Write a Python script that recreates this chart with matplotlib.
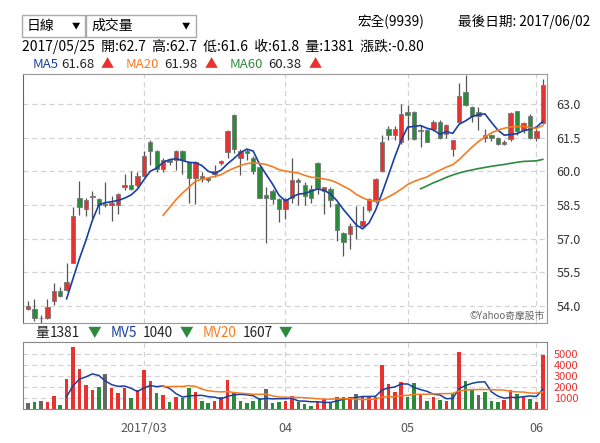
import numpy as np
import pandas as pd
import matplotlib
matplotlib.use('Agg')
import matplotlib.pyplot as plt
from matplotlib.patches import Rectangle

plt.rcParams['font.family'] = ['Noto Sans CJK TC', 'DejaVu Sans']

# daily candles, 2017/02 - 2017/06/02
opens = [53.85, 53.85, 53.45, 53.45, 54.2, 54.65, 54.7, 55.9, 58.8, 58.3,
         58.85, 58.75, 58.5, 58.5, 58.5, 59.3, 59.4, 59.4, 59.8, 61.3,
         60.9, 60.1, 60.5, 60.5, 60.9, 60.4, 59.7, 59.65, 59.7, 59.9,
         60.35, 60.85, 62.5, 60.6, 60.9, 60.6, 60.2, 58.95, 59.1, 58.75,
         58.3, 58.8, 59.6, 59.4, 59.2, 60.35, 59.1, 59.2, 58.55, 57.25,
         57.2, 57.55, 57.55, 58.25, 58.7, 60.0, 61.9, 61.6, 61.3, 62.65,
         62.65, 61.8, 61.85, 61.9, 62.2, 61.65, 61.0, 62.2, 63.55, 62.85,
         62.65, 61.5, 61.6, 61.5, 61.2, 61.45, 62.7, 61.85, 62.45, 61.5,
         62.15]
highs = [54.2, 54.3, 53.6, 54.3, 55.0, 54.85, 55.9, 58.4, 59.55, 58.8,
         59.1, 58.8, 59.5, 58.9, 59.05, 59.9, 60.0, 59.95, 60.9, 61.4,
         60.95, 60.6, 60.55, 60.95, 60.95, 60.4, 60.45, 59.95, 59.75, 60.3,
         60.5, 61.85, 62.55, 61.0, 61.0, 60.7, 60.3, 59.3, 59.2, 58.8,
         58.8, 60.6, 59.7, 59.5, 59.4, 60.4, 59.3, 59.3, 58.6, 57.3,
         57.7, 58.45, 58.45, 58.8, 59.7, 61.6, 62.0, 62.0, 63.0, 62.95,
         62.7, 62.05, 61.9, 62.3, 62.3, 62.1, 61.4, 63.95, 64.3, 62.9,
         62.85, 61.9, 61.65, 61.55, 61.4, 62.65, 62.7, 62.2, 62.55, 61.9,
         64.1]
lows = [53.8, 53.3, 53.2, 53.4, 54.05, 54.4, 54.65, 55.9, 58.05, 58.0,
        57.9, 58.1, 58.4, 57.8, 58.1, 59.15, 59.15, 59.3, 59.75, 60.3,
        59.95, 59.95, 60.3, 60.05, 59.9, 58.6, 58.55, 59.5, 59.5, 59.75,
        60.3, 60.6, 60.8, 59.85, 60.5, 59.9, 58.8, 56.8, 58.55, 57.75,
        57.85, 58.6, 58.5, 58.5, 58.6, 59.0, 58.1, 58.4, 56.9, 56.2,
        56.55, 57.0, 57.5, 58.2, 58.6, 59.95, 61.4, 61.4, 61.2, 61.4,
        61.4, 61.1, 61.3, 61.8, 61.45, 61.5, 60.7, 62.15, 62.9, 62.2,
        61.85, 61.3, 61.35, 61.15, 61.15, 61.35, 61.6, 61.7, 61.45, 61.35,
        62.1]
closes = [54.0, 53.45, 53.45, 53.95, 54.65, 54.45, 55.05, 58.0, 58.4, 58.7,
          58.9, 58.5, 58.5, 58.6, 59.0, 59.4, 59.2, 59.8, 60.7, 60.9,
          60.1, 60.5, 60.4, 60.9, 60.5, 59.7, 60.4, 59.8, 59.6, 60.0,
          60.45, 61.8, 61.0, 60.9, 60.8, 60.0, 58.8, 58.8, 58.75, 58.3,
          58.75, 59.6, 59.5, 58.9, 58.8, 59.25, 59.3, 58.7, 57.4, 56.85,
          57.55, 57.55, 57.8, 58.75, 59.65, 61.3, 61.6, 61.9, 62.55, 62.5,
          61.45, 61.8, 61.3, 62.2, 61.5, 62.05, 61.4, 63.35, 62.95, 62.45,
          62.45, 61.6, 61.5, 61.2, 61.3, 62.6, 61.8, 62.15, 61.5, 61.8,
          63.85]
volumes = [520, 610, 700, 610, 1200, 400, 2700, 5670, 3640, 2190,
           1740, 2010, 3200, 1920, 1410, 1920, 970, 1710, 3530, 2540,
           1410, 1290, 610, 1120, 1000, 1890, 1500, 700, 520, 760,
           1120, 2630, 1410, 760, 520, 700, 1000, 1860, 520, 610,
           700, 1200, 610, 460, 310, 700, 910, 610, 1120, 1050,
           1120, 1360, 1050, 1120, 1120, 3970, 2300, 1500, 2480, 1120,
           2400, 1290, 760, 1120, 820, 700, 1410, 5220, 2540, 1800,
           1290, 1500, 700, 600, 800, 1700, 1381, 1120, 910, 610,
           4870]
month_idx = [18, 40, 59, 79]
month_labels = ['2017/03', '04', '05', '06']
price_ticks = [54.0, 55.5, 57.0, 58.5, 60.0, 61.5, 63.0]
vol_ticks = [1000, 2000, 3000, 4000, 5000]

RED = '#e8322f'
GREEN = '#2c8a3c'
GRAY = '#666666'
C_MA5 = '#1a3fa3'
C_MA20 = '#f57c1f'
C_MA60 = '#2e8b3e'

W, H = 600, 443
fig = plt.figure(figsize=(6, 4.43), dpi=100)


def box(l, t, r, b):
    return [l / W, 1 - b / H, (r - l) / W, (b - t) / H]


def ftext(px, py, s, **kw):
    kw.setdefault('fontsize', 9)
    kw.setdefault('va', 'center')
    fig.text(px / W, 1 - py / H, s, **kw)


def ma(vals, n):
    s = pd.Series(vals, dtype=float)
    return s.iloc[2:].rolling(n).mean().reindex(s.index)


x = np.arange(len(closes))
o = np.array(opens); c = np.array(closes)
hi = np.array(highs); lo = np.array(lows)
xlim = (-0.78, 80.65)

# ---- price panel
ax = fig.add_axes(box(23, 74, 547, 323))
ax.vlines(x, lo, hi, color='#555555', lw=0.9, zorder=2)
cols = [RED if cc > oo else GREEN if cc < oo else GRAY for oo, cc in zip(o, c)]
ax.bar(x, np.maximum(np.abs(c - o), 0.02), bottom=np.minimum(o, c), width=0.68,
       color=cols, edgecolor='#777777', linewidth=0.6, zorder=3)
ax.plot(x, ma(closes, 5), color=C_MA5, lw=1.2, zorder=4)
ax.plot(x, ma(closes, 20), color=C_MA20, lw=1.2, zorder=4)
ax.plot(x, ma(closes, 60), color=C_MA60, lw=1.2, zorder=4)
ax.set_xlim(*xlim)
ax.set_ylim(53.23, 64.34)
ax.set_yticks(price_ticks)
ax.set_yticklabels(['%.1f' % t for t in price_ticks])
ax.yaxis.tick_right()
ax.set_xticks(month_idx)
ax.set_xticklabels([])
ax.tick_params(length=0, labelsize=9, colors='#333333', pad=7)
ax.grid(True, ls=(0, (4, 3)), color='#d3d3d3', lw=0.9)
ax.set_axisbelow(True)
for sp in ax.spines.values():
    sp.set_color('#999999')
ax.spines['left'].set_color('#666666')
ax.text(0.995, 0.01, '©Yahoo奇摩股市', transform=ax.transAxes, ha='right',
        va='bottom', fontsize=7, color='#666666')

# ---- volume panel
axv = fig.add_axes(box(23, 342, 547, 409))
prev = np.r_[np.nan, c[:-1]]
vcols = [GRAY if np.isnan(p) or cc == p else RED if cc > p else GREEN
         for p, cc in zip(prev, c)]
axv.bar(x, volumes, width=0.55, color=vcols, zorder=3)
axv.plot(x, ma(volumes, 5), color=C_MA5, lw=1.1, zorder=4)
axv.plot(x, ma(volumes, 20), color=C_MA20, lw=1.1, zorder=4)
axv.set_xlim(*xlim)
axv.set_ylim(0, 6090)
axv.set_yticks(vol_ticks)
axv.yaxis.tick_right()
axv.set_xticks(month_idx)
axv.set_xticklabels(month_labels)
axv.tick_params(length=0, pad=7)
axv.tick_params(axis='y', colors=RED, pad=5, labelsize=8)
axv.tick_params(axis='x', colors='#555555', pad=9, labelsize=9)
axv.grid(True, ls=(0, (4, 3)), color='#d3d3d3', lw=0.9)
axv.set_axisbelow(True)
for sp in axv.spines.values():
    sp.set_color('#888888')

# ---- header
for l, r in [(22, 85), (86, 196)]:
    fig.add_artist(Rectangle((l / W, 1 - 37 / H), (r - l) / W, 22 / H,
                             transform=fig.transFigure, fill=False,
                             edgecolor='#aaaaaa', lw=1))
ftext(27, 26, '日線', fontsize=10)
ftext(76, 26, '▼', fontsize=6, ha='center')
ftext(91, 26, '成交量', fontsize=10)
ftext(186, 26, '▼', fontsize=6, ha='center')
ftext(357, 22, '宏全(9939)', fontsize=9.8)
ftext(590, 22, '最後日期: 2017/06/02', ha='right', fontsize=9.8)
ftext(22, 46, '2017/05/25  開:62.7  高:62.7  低:61.6  收:61.8  量:1381  漲跌:-0.80',
      fontsize=10)

for px, s, col in [(33, 'MA5', C_MA5), (61, '61.68', '#222222'), (101, '▲', RED),
                   (126, 'MA20', C_MA20), (164, '61.98', '#222222'), (205, '▲', RED),
                   (230, 'MA60', C_MA60), (268, '60.38', '#222222'), (309, '▲', RED)]:
    ftext(px, 65, s, color=col, fontsize=9.5)

for px, s, col in [(35, '量', '#222222'), (50, '1381', '#222222'), (88, '▼', GREEN),
                   (111, 'MV5', C_MA5), (143, '1040', '#222222'), (180, '▼', GREEN),
                   (203, 'MV20', C_MA20), (243, '1607', '#222222'), (279, '▼', GREEN)]:
    ftext(px, 333, s, color=col, fontsize=9.8)

fig.savefig('out.png', dpi=100)
